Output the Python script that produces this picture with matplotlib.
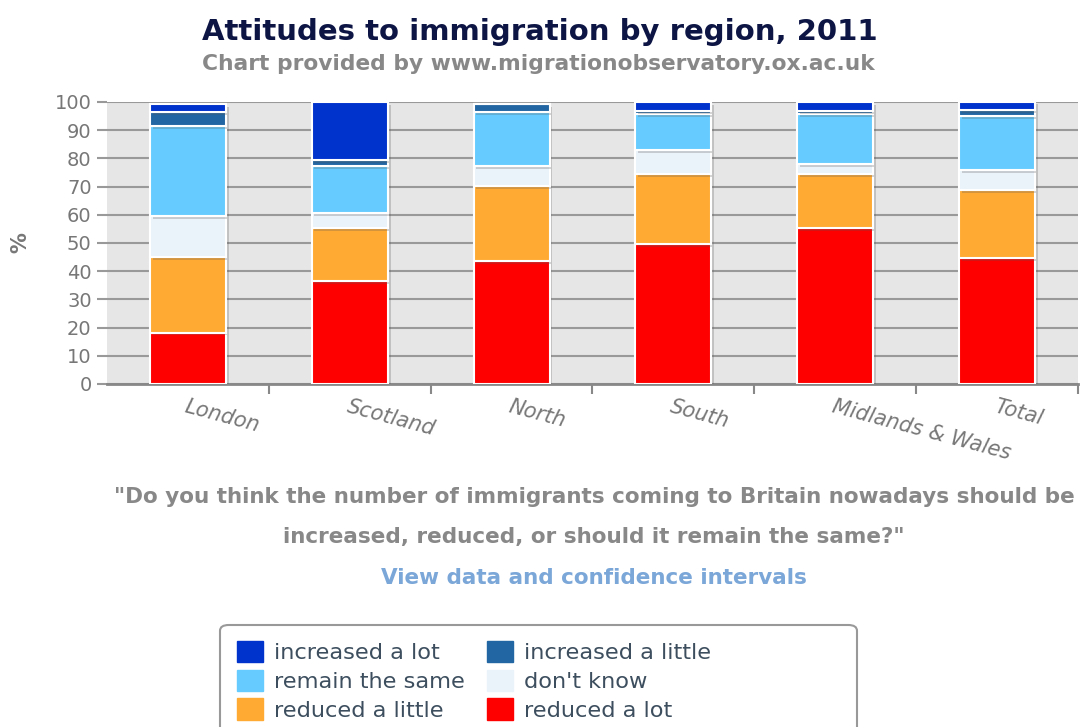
import matplotlib.pyplot as plt
import matplotlib.patheffects as pe
from matplotlib.patches import Patch, FancyBboxPatch
import numpy as np

regions = ["London", "Scotland", "North", "South", "Midlands & Wales", "Total"]

# % of respondents, bottom to top of each stack
reduced_lot = [18.2, 36.6, 43.7, 49.5, 55.2, 44.6]
reduced_little = [26.9, 18.6, 26.4, 24.9, 19.2, 24.2]
dont_know = [14.5, 5.3, 7.2, 8.6, 3.6, 7.1]
remain_same = [31.9, 16.8, 19.0, 12.6, 17.6, 19.1]
increased_little = [4.8, 2.0, 2.9, 1.3, 1.3, 2.2]
increased_lot = [3.0, 20.7, 0.0, 3.0, 3.0, 2.9]

series = [
    ("reduced a lot", reduced_lot, "#ff0000"),
    ("reduced a little", reduced_little, "#ffaa33"),
    ("don't know", dont_know, "#eaf2fa"),
    ("remain the same", remain_same, "#66ccff"),
    ("increased a little", increased_little, "#2266a3"),
    ("increased a lot", increased_lot, "#0033cc"),
]

W, H = 1088, 727
fig = plt.figure(figsize=(W / 100, H / 100), dpi=100)
ax = fig.add_axes([107 / W, 1 - 384 / H, (1078 - 107) / W, (384 - 102) / H])
ax.set_facecolor("#e6e6e6")

x = np.arange(len(regions))
bottom = np.zeros(len(regions))
shadow = [pe.SimplePatchShadow(offset=(2, -2), shadow_rgbFace="#555555", alpha=0.25), pe.Normal()]
for name, vals, col in series:
    vals = np.array(vals)
    bars = ax.bar(x, vals, width=0.47, bottom=bottom, color=col, edgecolor="white",
                  linewidth=1.5, zorder=3)
    for b in bars:
        b.set_path_effects(shadow)
    bottom += vals

ax.set_xlim(-0.5, len(regions) - 0.5)
ax.set_ylim(0, 100)
ax.set_yticks(range(0, 101, 10))
ax.yaxis.grid(True, color="#999999", linewidth=1.5, zorder=1)
ax.set_axisbelow(True)
ax.tick_params(axis="y", length=7, width=1.5, color="#999999", labelcolor="#777777",
               labelsize=14, pad=4)
for s in ["top", "right", "left"]:
    ax.spines[s].set_visible(False)
ax.spines["bottom"].set_color("#888888")
ax.spines["bottom"].set_linewidth(2)

ax.set_xticks(x)
ax.set_xticklabels(regions, rotation=-15, ha="left", rotation_mode="anchor",
                   fontsize=15, style="italic", color="#777777")
ax.tick_params(axis="x", length=0, pad=9)
ax.set_xticks(np.arange(0.5, len(regions), 1), minor=True)
ax.tick_params(axis="x", which="minor", length=7, width=1.5, color="#888888")

fig.text(20 / W, 1 - 243 / H, "%", rotation=90, ha="center", va="center",
         fontsize=15, color="#777777", fontweight="bold")

fig.text(540 / W, 1 - 32 / H, "Attitudes to immigration by region, 2011", ha="center",
         va="center", fontsize=21, fontweight="bold", color="#0d1545")
fig.text(538 / W, 1 - 64 / H, "Chart provided by www.migrationobservatory.ox.ac.uk",
         ha="center", va="center", fontsize=15.7, fontweight="bold", color="#888888")

fig.text(594 / W, 1 - 497 / H,
         "\"Do you think the number of immigrants coming to Britain nowadays should be",
         ha="center", va="center", fontsize=15.5, fontweight="bold", color="#888888")
fig.text(594 / W, 1 - 537 / H, "increased, reduced, or should it remain the same?\"",
         ha="center", va="center", fontsize=15.5, fontweight="bold", color="#888888")
fig.text(594 / W, 1 - 578 / H, "View data and confidence intervals",
         ha="center", va="center", fontsize=15.5, fontweight="bold", color="#7aa6d8")

# legend frame
frame = FancyBboxPatch((220 / W, -0.05), (857 - 220) / W, (1 - 625 / H) + 0.05,
                       boxstyle="round,pad=0,rounding_size=0.008", transform=fig.transFigure,
                       facecolor="white", edgecolor="#999999", linewidth=1.5)
fig.patches.append(frame)

lookup = {name: col for name, _, col in series}
order = ["increased a lot", "remain the same", "reduced a little",
         "increased a little", "don't know", "reduced a lot"]
handles = [Patch(facecolor=lookup[n], edgecolor=lookup[n], label=n) for n in order]
fig.legend(handles=handles, loc="upper left", bbox_to_anchor=(221 / W, 1 - 625 / H),
           ncol=2, frameon=False, fontsize=16.2, labelcolor="#3d4f5f",
           handlelength=1.15, handleheight=1.1, handletextpad=0.5, columnspacing=1.0,
           labelspacing=0.28, borderpad=0.2)

fig.savefig("out.png", dpi=100)
